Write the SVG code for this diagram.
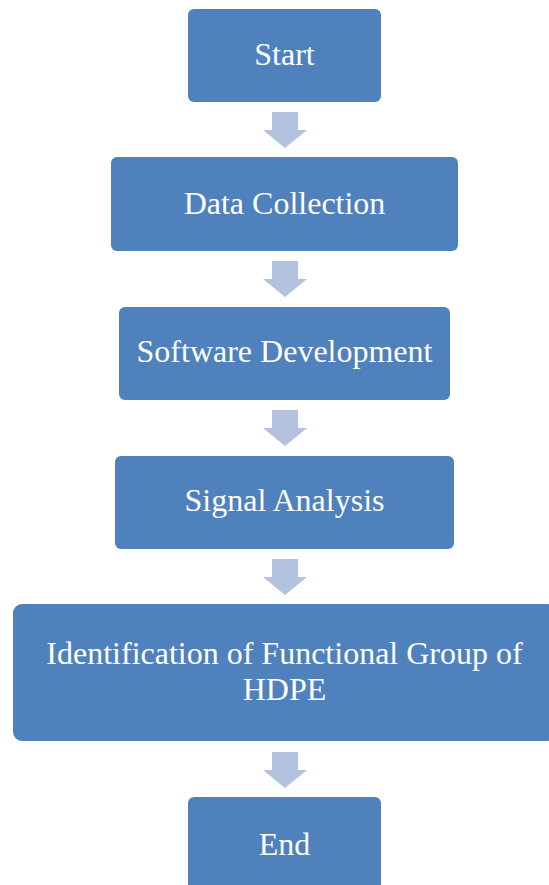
<svg xmlns="http://www.w3.org/2000/svg" width="549" height="885" viewBox="0 0 549 885">
  <defs>
    <style>
      .box { fill: #4F81BD; }
      .label { fill: #FFFFFF; font-family: "Liberation Serif", "Times New Roman", serif; font-size: 32px; text-anchor: middle; }
      .arrow { fill: #B3C2DE; }
    </style>
    <!-- block arrow pointing down, origin at top centre of its shaft -->
    <path id="down" d="M -13 0 H 13 V 18 H 22 L 0 36 L -22 18 H -13 Z"/>
  </defs>
  <rect width="549" height="885" fill="#FFFFFF"/>

  <g id="connectors">
    <use href="#down" class="arrow" x="285" y="112"/>
    <use href="#down" class="arrow" x="285" y="261"/>
    <use href="#down" class="arrow" x="285" y="410"/>
    <use href="#down" class="arrow" x="285" y="559"/>
    <use href="#down" class="arrow" x="285" y="752"/>
  </g>

  <g id="start">
    <rect class="box" x="188" y="9" width="193" height="93" rx="6"/>
    <text class="label" x="284.5" y="65">Start</text>
  </g>

  <g id="data-collection">
    <rect class="box" x="111" y="157" width="347" height="94" rx="6"/>
    <text class="label" x="284.5" y="214">Data Collection</text>
  </g>

  <g id="software-development">
    <rect class="box" x="119" y="307" width="331" height="93" rx="6"/>
    <text class="label" x="284.5" y="362">Software Development</text>
  </g>

  <g id="signal-analysis">
    <rect class="box" x="115" y="456" width="339" height="93" rx="6"/>
    <text class="label" x="284.5" y="511">Signal Analysis</text>
  </g>

  <g id="identification">
    <rect class="box" x="13" y="604" width="543" height="137" rx="9"/>
    <text class="label" x="284.5" y="664">Identification of Functional Group of</text>
    <text class="label" x="284.5" y="700">HDPE</text>
  </g>

  <g id="end">
    <rect class="box" x="188" y="797" width="193" height="100" rx="6"/>
    <text class="label" x="284.5" y="855">End</text>
  </g>
</svg>
